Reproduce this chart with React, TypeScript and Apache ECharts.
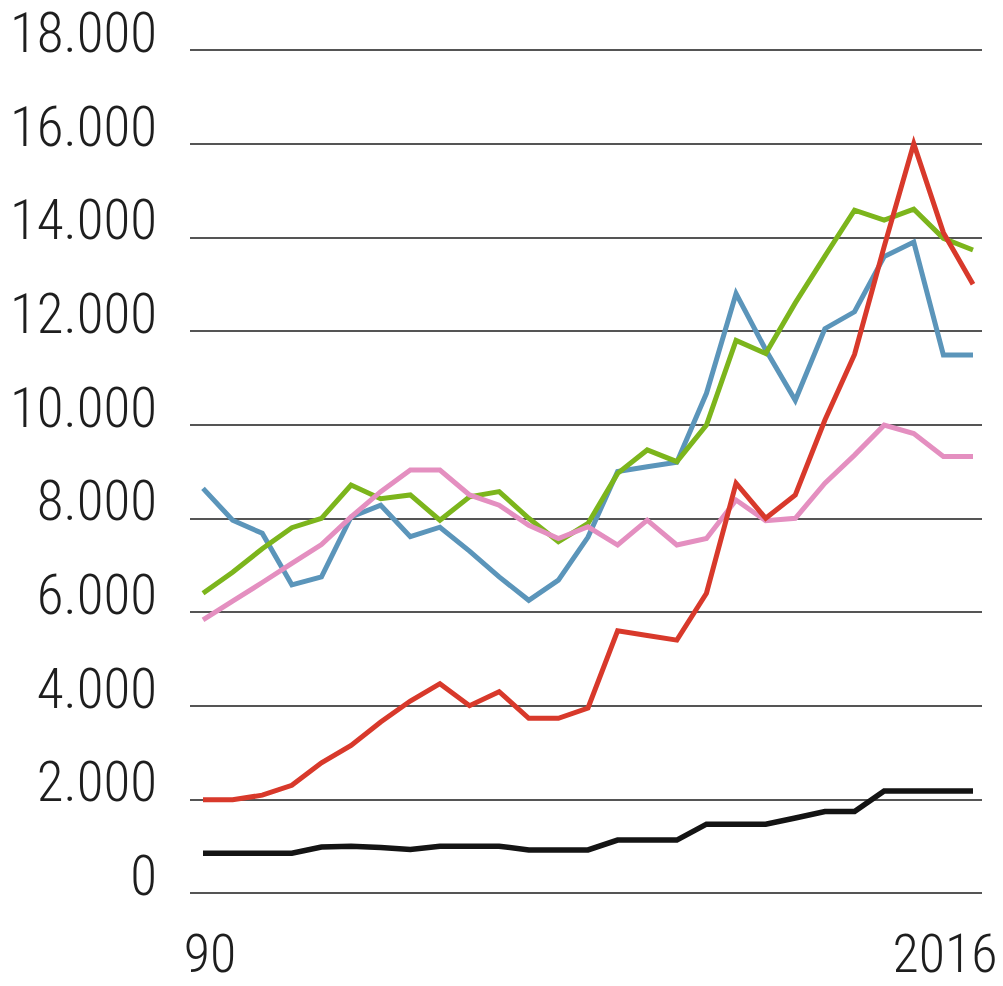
import React, { useEffect, useRef } from "react";
import * as echarts from "echarts";

const years = [
  1990, 1991, 1992, 1993, 1994, 1995, 1996, 1997, 1998, 1999, 2000, 2001, 2002,
  2003, 2004, 2005, 2006, 2007, 2008, 2009, 2010, 2011, 2012, 2013, 2014, 2015, 2016,
];

const blackSeries = [
  850, 850, 850, 850, 980, 1000, 970, 930, 1000, 1000, 1000, 920, 920, 920, 1130,
  1130, 1130, 1470, 1470, 1470, 1600, 1740, 1740, 2180, 2180, 2180, 2180,
];
const redSeries = [
  1990, 1990, 2090, 2300, 2780, 3150, 3650, 4100, 4470, 4000, 4300, 3730, 3730,
  3950, 5600, 5500, 5400, 6400, 8750, 8000, 8500, 10100, 11500, 13800, 16000,
  14100, 13000,
];
const pinkSeries = [
  5830, 6230, 6630, 7040, 7440, 8030, 8570, 9030, 9030, 8500, 8280, 7850, 7570,
  7820, 7430, 7960, 7430, 7570, 8390, 7950, 8000, 8750, 9350, 9990, 9810, 9320,
  9320,
];
const blueSeries = [
  8640, 7960, 7680, 6580, 6750, 8030, 8280, 7610, 7810, 7300, 6750, 6250, 6680,
  7600, 9000, 9100, 9200, 10670, 12800, 11600, 10520, 12050, 12410, 13590, 13900,
  11490, 11490,
];
const greenSeries = [
  6400, 6850, 7350, 7800, 8000, 8710, 8420, 8500, 7960, 8460, 8570, 8000, 7500,
  7890, 8960, 9460, 9210, 9990, 11800, 11520, 12600, 13600, 14580, 14370, 14600,
  13980, 13730,
];

const yTickLabels = [
  "0", "2.000", "4.000", "6.000", "8.000", "10.000", "12.000", "14.000", "16.000", "18.000",
];
const xLabelYears = [1990, 2016];
const xTickLabels = ["90", "2016"];

const FONT = "'Roboto Condensed', 'Roboto', sans-serif";

// layout constants (pixels)
const GRID_LEFT = 190;
const GRID_RIGHT_EDGE = 982;
const X_MIN = 1989.561;
const X_MAX = 2016.304;
const X_LABEL_SHIFT_PX = [7, -28];

export default function App() {
  const ref = useRef<HTMLDivElement>(null);

  useEffect(() => {
    if (!ref.current) return;
    const chart = echarts.init(ref.current, null, { renderer: "svg" });

    const pxPerYear = (GRID_RIGHT_EDGE - GRID_LEFT) / (X_MAX - X_MIN);
    const labelPositions = xLabelYears.map((y, i) => y + X_LABEL_SHIFT_PX[i] / pxPerYear);

    const toPairs = (vals: number[]) => years.map((y, i) => [y, vals[i]]);
    const line = (name: string, vals: number[], color: string, width = 5) => ({
      name,
      type: "line",
      data: toPairs(vals),
      showSymbol: false,
      symbol: "none",
      lineStyle: { color, width, join: "miter", miterLimit: 4 },
      emphasis: { disabled: true },
      z: 2,
    });

    chart.setOption({
      animation: false,
      backgroundColor: "#ffffff",
      grid: {
        left: GRID_LEFT,
        right: 1003 - GRID_RIGHT_EDGE,
        top: 50,
        bottom: 93,
        containLabel: false,
        outerBoundsMode: "none",
      },
      xAxis: {
        type: "value",
        min: X_MIN,
        max: X_MAX,
        axisLine: { show: false },
        axisTick: { show: false },
        splitLine: { show: false },
        axisLabel: {
          customValues: labelPositions,
          margin: 39,
          fontFamily: FONT,
          fontWeight: 300,
          fontSize: 54,
          lineHeight: 42,
          color: "#1e1e1e",
          formatter: (v: number) => {
            let best = 0;
            labelPositions.forEach((p, i) => {
              if (Math.abs(p - v) < Math.abs(labelPositions[best] - v)) best = i;
            });
            return xTickLabels[best];
          },
        },
      },
      yAxis: {
        type: "value",
        min: 0,
        max: 18000,
        interval: 2000,
        axisLine: { show: false },
        axisTick: { show: false },
        splitLine: { show: true, lineStyle: { color: "#555555", width: 1.8 } },
        axisLabel: {
          margin: 33,
          fontFamily: FONT,
          fontWeight: 300,
          fontSize: 55,
          lineHeight: 34,
          verticalAlign: "bottom",
          color: "#1e1e1e",
          formatter: (v: number) => yTickLabels[Math.round(v / 2000)] ?? "",
        },
      },
      series: [
        line("black", blackSeries, "#141414", 5.5),
        line("blue", blueSeries, "#5b95ba"),
        line("green", greenSeries, "#7cb51c"),
        line("pink", pinkSeries, "#e48fc0"),
        line("red", redSeries, "#d8392b"),
      ],
    });

    return () => chart.dispose();
  }, []);

  return (
    <div
      ref={ref}
      style={{ position: "fixed", left: 0, top: 0, width: 1003, height: 986 }}
    />
  );
}
